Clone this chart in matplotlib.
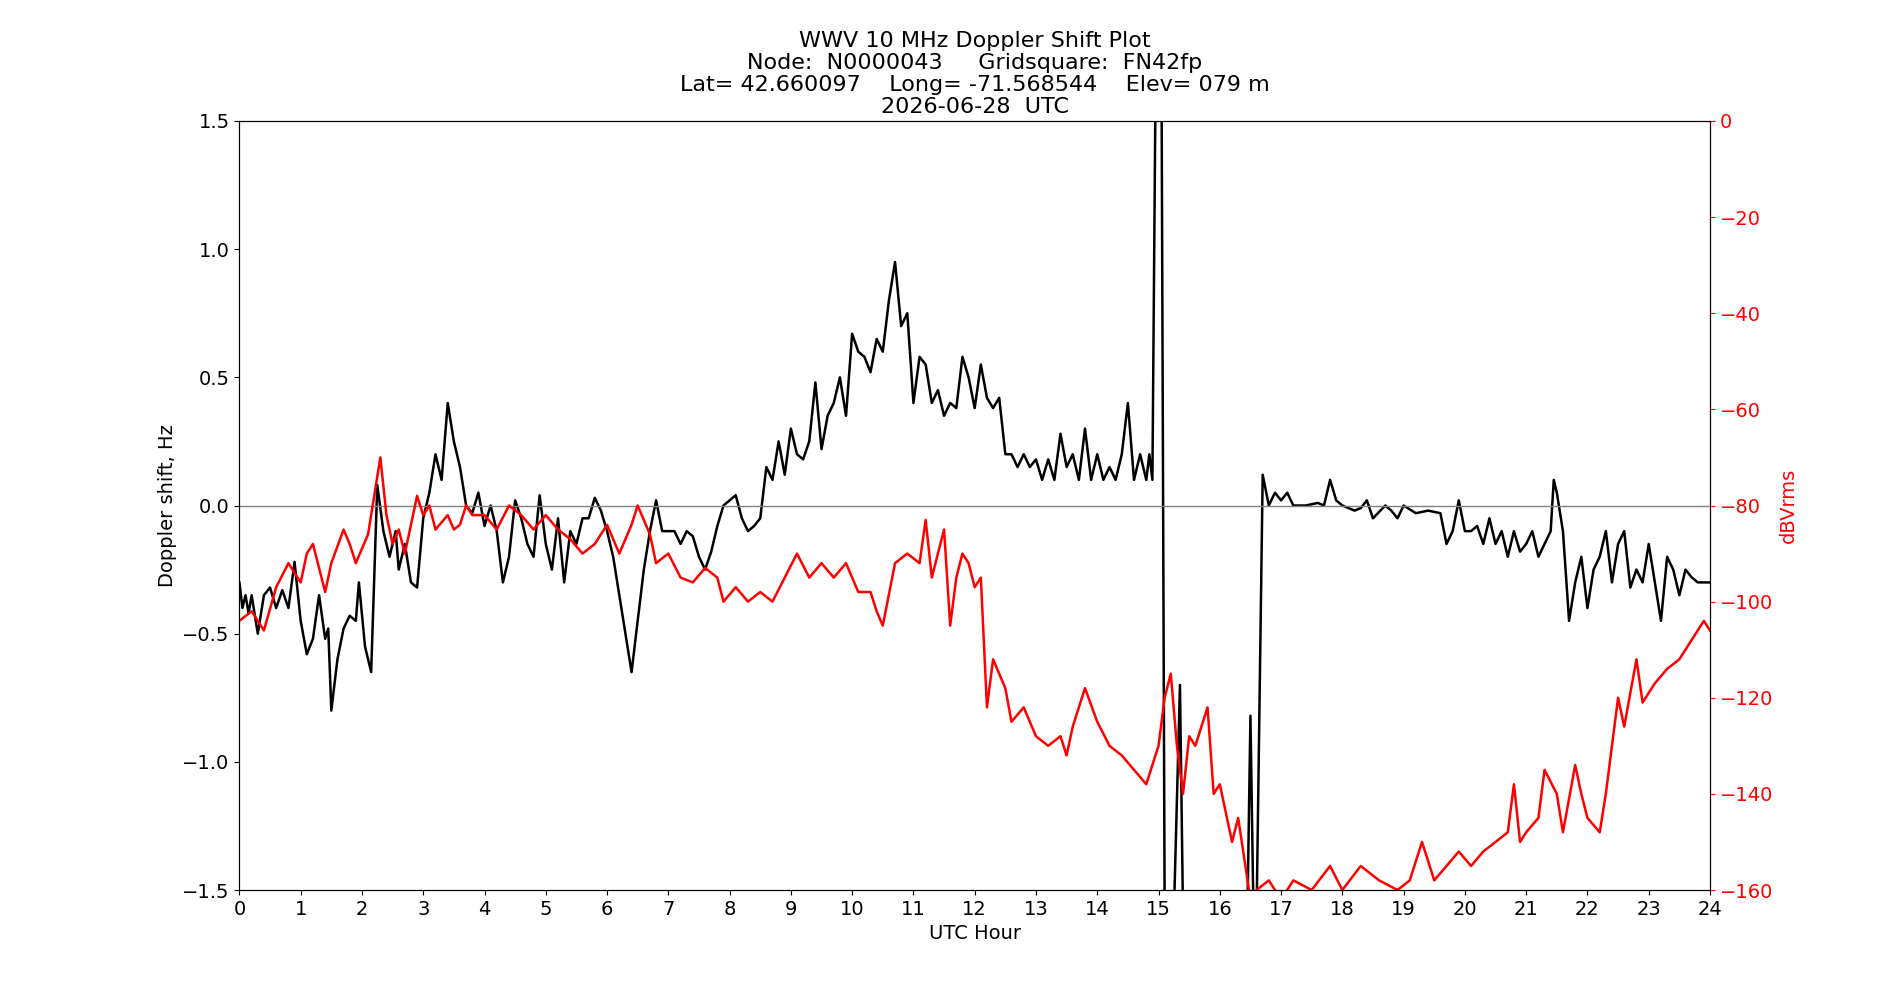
import matplotlib.pyplot as plt
import numpy as np

# Doppler shift (hour, Hz)
dop_hour = [0, 0.05, 0.1, 0.15, 0.2, 0.3, 0.4, 0.5, 0.6, 0.7, 0.8, 0.9, 1.0, 1.1, 1.2, 1.3, 1.4, 1.45, 1.5, 1.6,
            1.7, 1.8, 1.9, 1.95, 2.05, 2.15, 2.25, 2.35, 2.45, 2.55, 2.6, 2.7, 2.8, 2.9, 3.0, 3.1, 3.2, 3.3, 3.4, 3.5,
            3.6, 3.7, 3.8, 3.9, 4.0, 4.1, 4.2, 4.3, 4.4, 4.5, 4.6, 4.7, 4.8, 4.9, 5.0, 5.1, 5.2, 5.3, 5.4, 5.5,
            5.6, 5.7, 5.8, 5.9, 6.0, 6.1, 6.2, 6.3, 6.4, 6.5, 6.6, 6.7, 6.8, 6.9, 7.0, 7.1, 7.2, 7.3, 7.4, 7.5,
            7.6, 7.7, 7.8, 7.9, 8.0, 8.1, 8.2, 8.3, 8.4, 8.5, 8.6, 8.7, 8.8, 8.9, 9.0, 9.1, 9.2, 9.3, 9.4, 9.5,
            9.6, 9.7, 9.8, 9.9, 10.0, 10.1, 10.2, 10.3, 10.4, 10.5, 10.6, 10.7, 10.8, 10.9, 11.0, 11.1, 11.2, 11.3,
            11.4, 11.5, 11.6, 11.7, 11.8, 11.9, 12.0, 12.1, 12.2, 12.3, 12.4, 12.5, 12.6, 12.7, 12.8, 12.9, 13.0,
            13.1, 13.2, 13.3, 13.4, 13.5, 13.6, 13.7, 13.8, 13.9, 14.0, 14.1, 14.2, 14.3, 14.4, 14.5, 14.6, 14.7,
            14.8, 14.85, 14.9, 14.95, 15.05, 15.1, 15.25, 15.35, 15.4, 16.45, 16.5, 16.55, 16.6, 16.7, 16.8, 16.9,
            17.0, 17.1, 17.2, 17.4, 17.6, 17.7, 17.8, 17.9, 18.0, 18.2, 18.3, 18.4, 18.5, 18.7, 18.8, 18.9, 19.0,
            19.2, 19.4, 19.6, 19.7, 19.8, 19.9, 20.0, 20.1, 20.2, 20.3, 20.4, 20.5, 20.6, 20.7, 20.8, 20.9, 21.0,
            21.1, 21.2, 21.3, 21.4, 21.45, 21.5, 21.6, 21.7, 21.8, 21.9, 22.0, 22.1, 22.2, 22.3, 22.4, 22.5, 22.6,
            22.7, 22.8, 22.9, 23.0, 23.1, 23.2, 23.3, 23.4, 23.5, 23.6, 23.7, 23.8, 24.0]
dop_hz = [-0.3, -0.4, -0.35, -0.42, -0.35, -0.5, -0.35, -0.32, -0.4, -0.33, -0.4, -0.22, -0.45, -0.58, -0.52, -0.35,
          -0.52, -0.48, -0.8, -0.6, -0.48, -0.43, -0.45, -0.3, -0.55, -0.65, 0.08, -0.1, -0.2, -0.1, -0.25, -0.15,
          -0.3, -0.32, -0.05, 0.05, 0.2, 0.1, 0.4, 0.25, 0.15, 0.0, -0.03, 0.05, -0.08, 0.0, -0.1, -0.3, -0.2,
          0.02, -0.05, -0.15, -0.2, 0.04, -0.15, -0.25, -0.05, -0.3, -0.1, -0.15, -0.05, -0.05, 0.03, -0.02, -0.1,
          -0.2, -0.35, -0.5, -0.65, -0.45, -0.25, -0.1, 0.02, -0.1, -0.1, -0.1, -0.15, -0.1, -0.12, -0.2, -0.25,
          -0.18, -0.08, 0.0, 0.02, 0.04, -0.05, -0.1, -0.08, -0.05, 0.15, 0.1, 0.25, 0.12, 0.3, 0.2, 0.18, 0.25,
          0.48, 0.22, 0.35, 0.4, 0.5, 0.35, 0.67, 0.6, 0.58, 0.52, 0.65, 0.6, 0.8, 0.95, 0.7, 0.75, 0.4, 0.58,
          0.55, 0.4, 0.45, 0.35, 0.4, 0.38, 0.58, 0.5, 0.38, 0.55, 0.42, 0.38, 0.42, 0.2, 0.2, 0.15, 0.2, 0.15,
          0.18, 0.1, 0.18, 0.1, 0.28, 0.15, 0.2, 0.1, 0.3, 0.1, 0.2, 0.1, 0.15, 0.1, 0.2, 0.4, 0.1, 0.2, 0.1, 0.2,
          0.1, 1.6, 1.6, -1.6, -1.6, -0.7, -1.6, -1.6, -0.82, -1.6, -1.6, 0.12, 0.0, 0.05, 0.02, 0.05, 0.0, 0.0,
          0.01, 0.0, 0.1, 0.02, 0.0, -0.02, -0.01, 0.02, -0.05, 0.0, -0.02, -0.05, 0.0, -0.03, -0.02, -0.03,
          -0.15, -0.1, 0.02, -0.1, -0.1, -0.08, -0.15, -0.05, -0.15, -0.1, -0.2, -0.1, -0.18, -0.15, -0.1, -0.2,
          -0.15, -0.1, 0.1, 0.05, -0.1, -0.45, -0.3, -0.2, -0.4, -0.25, -0.2, -0.1, -0.3, -0.15, -0.1, -0.32,
          -0.25, -0.3, -0.15, -0.3, -0.45, -0.2, -0.25, -0.35, -0.25, -0.28, -0.3, -0.3]

# Received power (hour, dBVrms)
pwr_hour = [0, 0.2, 0.4, 0.6, 0.8, 1.0, 1.1, 1.2, 1.4, 1.5, 1.7, 1.8, 1.9, 2.1, 2.2, 2.3, 2.4, 2.5, 2.6, 2.7, 2.8,
            2.9, 3.0, 3.1, 3.2, 3.4, 3.5, 3.6, 3.7, 3.8, 4.0, 4.2, 4.4, 4.6, 4.8, 5.0, 5.2, 5.4, 5.6, 5.8, 6.0,
            6.2, 6.4, 6.5, 6.7, 6.8, 7.0, 7.2, 7.4, 7.6, 7.8, 7.9, 8.1, 8.3, 8.5, 8.7, 8.9, 9.1, 9.3, 9.5, 9.7,
            9.9, 10.1, 10.3, 10.4, 10.5, 10.7, 10.9, 11.1, 11.2, 11.3, 11.5, 11.6, 11.7, 11.8, 11.9, 12.0, 12.1,
            12.2, 12.3, 12.5, 12.6, 12.8, 13.0, 13.2, 13.4, 13.5, 13.6, 13.8, 14.0, 14.2, 14.4, 14.6, 14.8, 15.0,
            15.1, 15.2, 15.3, 15.4, 15.5, 15.6, 15.7, 15.8, 15.9, 16.0, 16.2, 16.3, 16.5, 16.6, 16.8, 17.0, 17.2,
            17.5, 17.8, 18.0, 18.3, 18.6, 18.9, 19.1, 19.3, 19.5, 19.7, 19.9, 20.1, 20.3, 20.5, 20.7, 20.8, 20.9,
            21.0, 21.2, 21.3, 21.5, 21.6, 21.8, 21.9, 22.0, 22.2, 22.3, 22.5, 22.6, 22.8, 22.9, 23.1, 23.3, 23.5,
            23.7, 23.9, 24.0]
pwr_db = [-104, -102, -106, -97, -92, -96, -90, -88, -98, -92, -85, -88, -92, -86, -78, -70, -82, -88, -85, -90,
          -84, -78, -82, -80, -85, -82, -85, -84, -80, -82, -82, -85, -80, -82, -85, -82, -85, -87, -90, -88, -84,
          -90, -84, -80, -86, -92, -90, -95, -96, -93, -95, -100, -97, -100, -98, -100, -95, -90, -95, -92, -95,
          -92, -98, -98, -102, -105, -92, -90, -92, -83, -95, -85, -105, -95, -90, -92, -97, -95, -122, -112,
          -118, -125, -122, -128, -130, -128, -132, -126, -118, -125, -130, -132, -135, -138, -130, -120, -115,
          -130, -140, -128, -130, -126, -122, -140, -138, -150, -145, -162, -160, -158, -162, -158, -160, -155,
          -160, -155, -158, -160, -158, -150, -158, -155, -152, -155, -152, -150, -148, -138, -150, -148, -145,
          -135, -140, -148, -134, -140, -145, -148, -140, -120, -126, -112, -121, -117, -114, -112, -108, -104,
          -106]

fig, ax = plt.subplots(figsize=(19, 10), dpi=100)
fig.subplots_adjust(left=0.126, right=0.90, top=0.879, bottom=0.11)
ax.plot(dop_hour, dop_hz, color='black', lw=1.8)
ax.axhline(0, color='grey', lw=1)
ax.set_xlim(0, 24)
ax.set_ylim(-1.5, 1.5)
ax.set_xticks(np.arange(0, 25, 1))
ax.set_xlabel('UTC Hour', fontsize=14)
ax.set_ylabel('Doppler shift, Hz', fontsize=14)
ax.tick_params(labelsize=14)

ax2 = ax.twinx()
ax2.plot(pwr_hour, pwr_db, color='red', lw=1.8)
ax2.set_ylim(-160, 0)
ax2.set_ylabel('dBVrms', color='red', fontsize=14)
ax2.tick_params(axis='y', colors='red', labelsize=14)

ax.set_title('WWV 10 MHz Doppler Shift Plot\nNode:  N0000043     Gridsquare:  FN42fp\n'
             'Lat= 42.660097    Long= -71.568544    Elev= 079 m\n2026-06-28  UTC', fontsize=16, linespacing=1.12)

plt.savefig('out.png')
